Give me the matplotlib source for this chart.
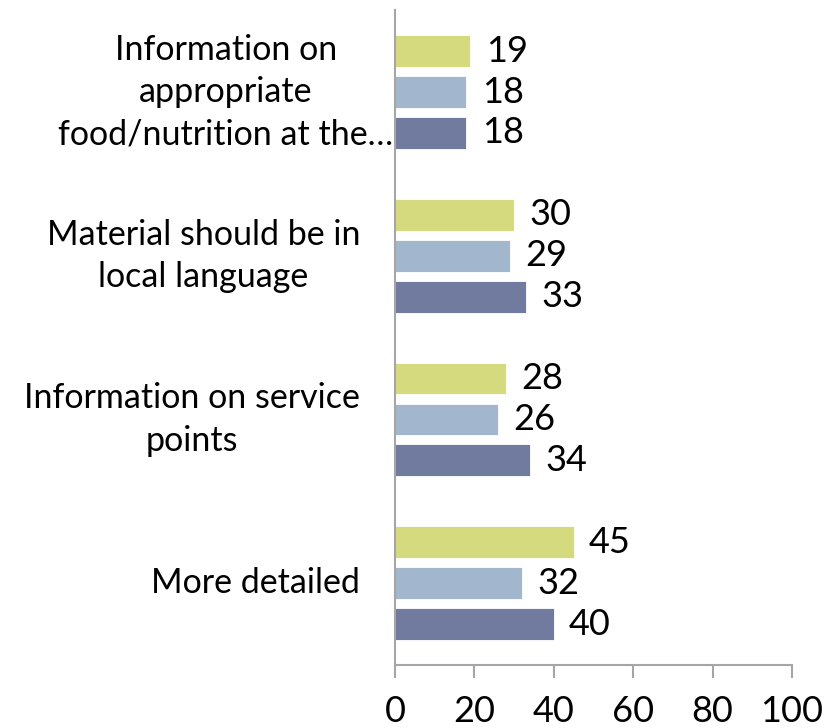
import matplotlib
matplotlib.use("Agg")
import matplotlib.pyplot as plt
import numpy as np

# Categories listed bottom to top
categories = [
    "More detailed",
    "Information on service\npoints",
    "Material should be in\nlocal language",
    "Information on\nappropriate\nfood/nutrition at the\u2026",
]
series_green = [45, 28, 30, 19]
series_lightblue = [32, 26, 29, 18]
series_darkblue = [40, 34, 33, 18]
x_ticks = [0, 20, 40, 60, 80, 100]

colors = ["#D4DA7D", "#A2B7CD", "#717BA0"]
plt.rcParams["font.family"] = ["Lato", "DejaVu Sans"]
FS_CAT = 24.5
FS_NUM = 26

fig = plt.figure(figsize=(8.35, 7.28), dpi=100)
ax = fig.add_axes([0.473, 0.0865, 0.4755, 0.8995])

y = np.arange(len(categories))
h = 0.195
step = 0.25
for vals, off, c in zip([series_green, series_lightblue, series_darkblue],
                        [step, 0, -step], colors):
    bars = ax.barh(y + off, vals, height=h, color=c, edgecolor="white", linewidth=0.6)
    for b, v in zip(bars, vals):
        ax.annotate(str(v), xy=(b.get_width(), b.get_y() + b.get_height() / 2),
                    xytext=(11, 0), textcoords="offset points",
                    ha="left", va="center", fontsize=FS_NUM)

ax.set_xlim(0, 100)
ax.set_ylim(-0.5, len(categories) - 0.5)
ax.set_xticks(x_ticks)
ax.set_xticklabels([str(t) for t in x_ticks], fontsize=FS_NUM)
ax.tick_params(axis="x", length=9, width=1.5, color="#A6A6A6", pad=12.5)
ax.set_yticks([])

for s in ["top", "right"]:
    ax.spines[s].set_visible(False)
for s in ["left", "bottom"]:
    ax.spines[s].set_color("#A6A6A6")
    ax.spines[s].set_linewidth(1.5)

for i, lab in enumerate(categories):
    off = -1 if i == len(categories) - 1 else -25
    ax.annotate(lab, xy=(0, i), xycoords=("axes fraction", "data"),
                xytext=(off, 0), textcoords="offset points",
                ha="right", va="center", multialignment="center",
                fontsize=FS_CAT, linespacing=1.4)

fig.savefig("out.png", dpi=100)
